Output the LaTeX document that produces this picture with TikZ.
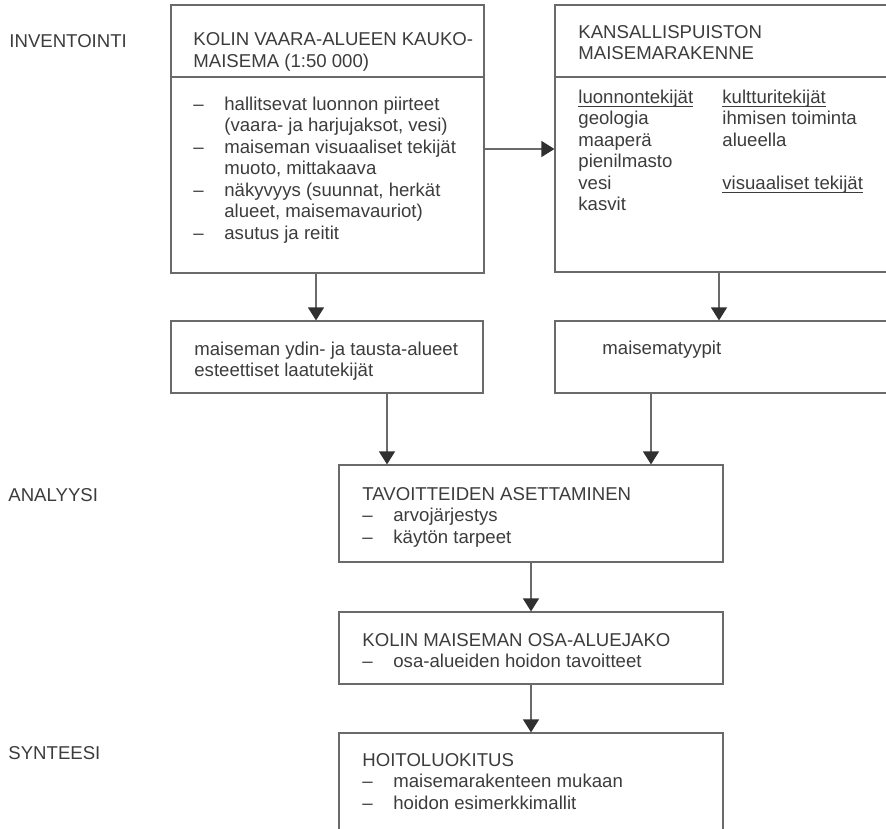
\documentclass[tikz,border=0pt]{standalone}
\usepackage{fontspec}
\setmainfont{Liberation Sans}
\usetikzlibrary{arrows.meta,fit}

\definecolor{tekstiC}{HTML}{3C3C3C}
\definecolor{viivaC}{HTML}{6A6A6A}
\definecolor{karkiC}{HTML}{303030}

\newcommand{\viiva}{\makebox[15.5pt][l]{–}}
\newcommand{\sisenna}{\hspace*{15.5pt}}
\newcommand{\alleviiva}[1]{\setbox0\hbox{#1}\rlap{\rule[-1.5pt]{\wd0}{0.45pt}}\box0}

\begin{document}
\begin{tikzpicture}[
    x=0.5pt, y=-0.5pt,
    laatikko/.style={draw=viivaC, line width=0.6pt, inner sep=0pt},
    txt/.style={font=\fontsize{9.3}{10.75}\selectfont, text=tekstiC,
        align=left, inner sep=0pt, anchor=north west},
    vaihe/.style={font=\fontsize{9.3}{10.75}\selectfont, text=tekstiC,
        inner sep=0pt, anchor=base west},
    nuoli/.style={draw=viivaC, line width=0.6pt,
        -{Triangle[length=6.5pt, width=8pt, color=karkiC, fill=karkiC]}},
]
\useasboundingbox (0,0) rectangle (886,828);
\clip (0,0) rectangle (886,828);

% Vaiheet
\node[vaihe] (inv) at (9,48) {INVENTOINTI};
\node[vaihe] (ana) at (8,501) {ANALYYSI};
\node[vaihe] (syn) at (8,759) {SYNTEESI};

% Kaukomaisema
\node[laatikko, fit={(171,5) (484,273)}] (kauko) {};
\draw[viivaC, line width=0.6pt] (kauko.west |- 0,77) -- (kauko.east |- 0,77);
\node[txt] (kauko-o) at (193,32.6)
    {KOLIN VAARA-ALUEEN KAUKO-\\MAISEMA (1:50 000)};
\node[txt] (kauko-l) at (193,96.6)
    {\viiva hallitsevat luonnon piirteet\\
     \sisenna (vaara- ja harjujaksot, vesi)\\
     \viiva maiseman visuaaliset tekijät\\
     \sisenna muoto, mittakaava\\
     \viiva näkyvyys (suunnat, herkät\\
     \sisenna alueet, maisemavauriot)\\
     \viiva asutus ja reitit};

% Maisemarakenne
\node[laatikko, fit={(555,5) (889,272)}] (rakenne) {};
\draw[viivaC, line width=0.6pt] (rakenne.west |- 0,77) -- (rakenne.east |- 0,77);
\node[txt] (rakenne-o) at (578,24.7)
    {KANSALLISPUISTON\\MAISEMARAKENNE};
\node[txt] (luonto) at (578,89.6)
    {\alleviiva{luonnontekijät}\\geologia\\maaperä\\pienilmasto\\vesi\\kasvit};
\node[txt] (kulttuuri) at (722,89.6)
    {\alleviiva{kultturitekijät}\\ihmisen toiminta\\alueella\\[10.75pt]
     \alleviiva{visuaaliset tekijät}};

% Ydin- ja tausta-alueet, maisematyypit
\node[laatikko, fit={(171,321) (483,393)}] (ydin) {};
\node[txt, font=\fontsize{9.3}{10.5}\selectfont] (ydin-t) at (194,341.6)
    {maiseman ydin- ja tausta-alueet\\esteettiset laatutekijät};
\node[laatikko, fit={(555,321) (895,393)}] (tyypit) {};
\node[vaihe] (tyypit-t) at (602,354) {maisematyypit};

% Analyysi ja synteesi
\node[laatikko, fit={(339,465) (723,562)}] (tavoite) {};
\node[txt] (tavoite-t) at (362,486.7)
    {TAVOITTEIDEN ASETTAMINEN\\
     \viiva arvojärjestys\\
     \viiva käytön tarpeet};
\node[laatikko, fit={(339,612) (723,684)}] (osajako) {};
\node[txt] (osajako-t) at (362,632.7)
    {KOLIN MAISEMAN OSA-ALUEJAKO\\
     \viiva osa-alueiden hoidon tavoitteet};
\node[laatikko, fit={(339,733) (723,850)}] (hoito) {};
\node[txt] (hoito-t) at (362,752.7)
    {HOITOLUOKITUS\\
     \viiva maisemarakenteen mukaan\\
     \viiva hoidon esimerkkimallit};

% Nuolet
\draw[nuoli] ([yshift=-5pt]kauko.east) -- ([yshift=-5pt]kauko.east -| rakenne.west);
\draw[nuoli] ([xshift=-5.75pt]kauko.south) -- ([xshift=-5.75pt]kauko.south |- ydin.north);
\draw[nuoli] ([xshift=-1.5pt]rakenne.south) -- ([xshift=-1.5pt]rakenne.south |- tyypit.north);
\draw[nuoli] ([xshift=30pt]ydin.south) -- ([xshift=30pt]ydin.south |- tavoite.north);
\draw[nuoli] ([xshift=-37pt]tyypit.south) -- ([xshift=-37pt]tyypit.south |- tavoite.north);
\draw[nuoli] (tavoite.south) -- (osajako.north);
\draw[nuoli] (osajako.south) -- (hoito.north);

\end{tikzpicture}
\end{document}
